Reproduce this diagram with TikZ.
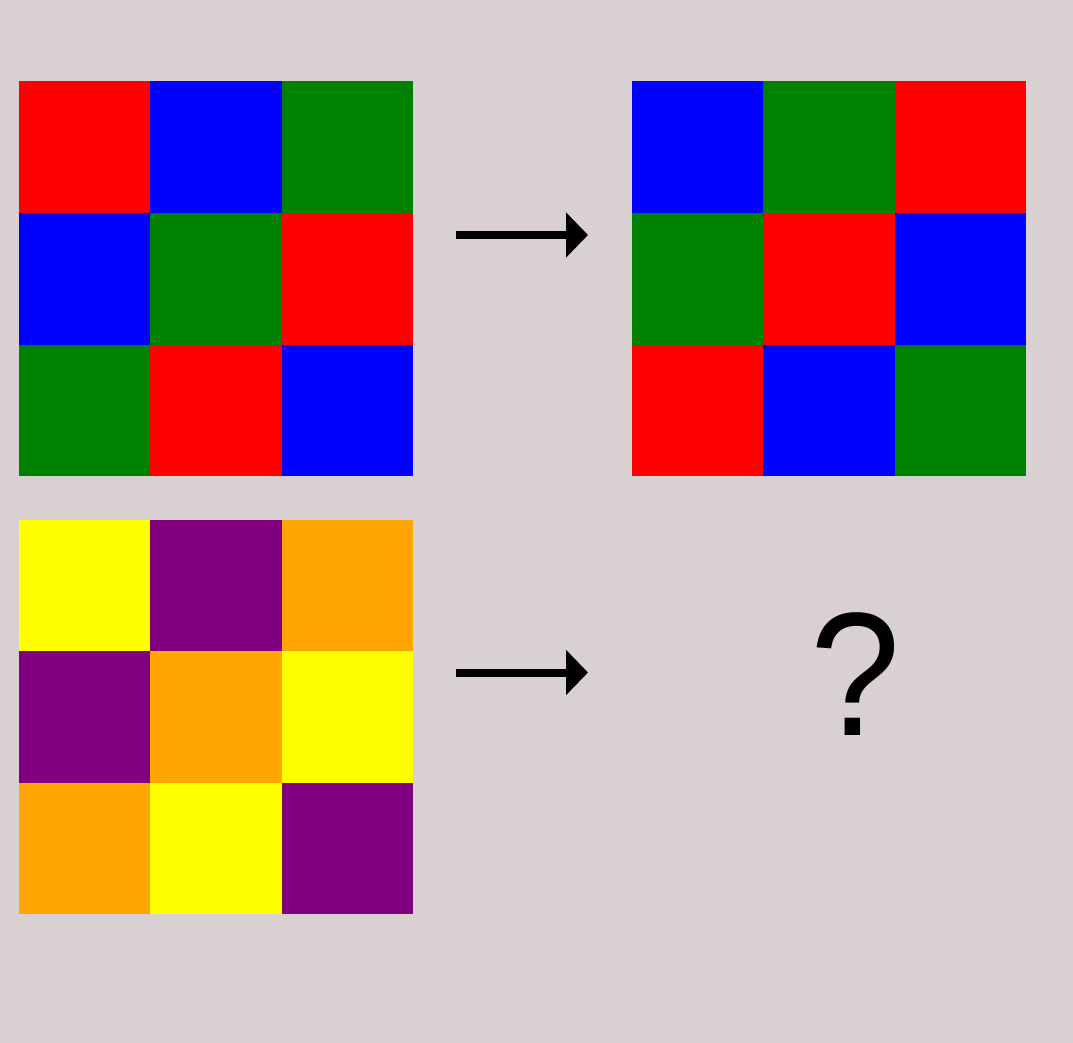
\documentclass[tikz,border=0pt]{standalone}
\usepackage{fontspec}
\setmainfont{Liberation Sans}
\usetikzlibrary{arrows.meta}
\definecolor{bgc}{RGB}{217,208,209}
\definecolor{cR}{RGB}{255,0,0}
\definecolor{cB}{RGB}{0,0,255}
\definecolor{cG}{RGB}{0,128,0}
\definecolor{cY}{RGB}{255,255,0}
\definecolor{cP}{RGB}{128,0,128}
\definecolor{cO}{RGB}{255,165,0}
\tikzset{
  cell/.style={fill=#1, draw=none, minimum width=131.5pt, minimum height=131.5pt, inner sep=0pt, outer sep=0pt, anchor=north west},
  maparrow/.style={line width=8pt, -{Triangle[length=22pt,width=44pt]}, shorten >=-1pt},
}
\newcommand{\mygrid}[4]{%
  \foreach \c [count=\i from 0] in {#4} {
    \pgfmathtruncatemacro{\row}{int(\i/3)}
    \pgfmathtruncatemacro{\col}{mod(\i,3)}
    \node[cell=\c] (#1-\row-\col) at ({#2+131.5*\col},{#3+131.5*\row}) {};
  }
}
\begin{document}
\begin{tikzpicture}[x=1pt,y=-1pt]
\fill[bgc] (0,0) rectangle (1073,1043);
\useasboundingbox (0,0) rectangle (1073,1043);
\mygrid{A}{18.5}{81.5}{cR,cB,cG,cB,cG,cR,cG,cR,cB}
\mygrid{B}{631.5}{81.5}{cB,cG,cR,cG,cR,cB,cR,cB,cG}
\mygrid{C}{18.5}{519.5}{cY,cP,cO,cP,cO,cY,cO,cY,cP}
\coordinate (a1s) at (456,235);
\coordinate (a1e) at (587,235);
\coordinate (a2s) at (456,672.5);
\coordinate (a2e) at (587,672.5);
\draw[maparrow] (a1s) -- (a1e);
\draw[maparrow] (a2s) -- (a2e);
\node[font=\fontsize{176}{176}\selectfont, inner sep=0pt, xscale=0.92] (q) at (856,674) {?};
\end{tikzpicture}
\end{document}
